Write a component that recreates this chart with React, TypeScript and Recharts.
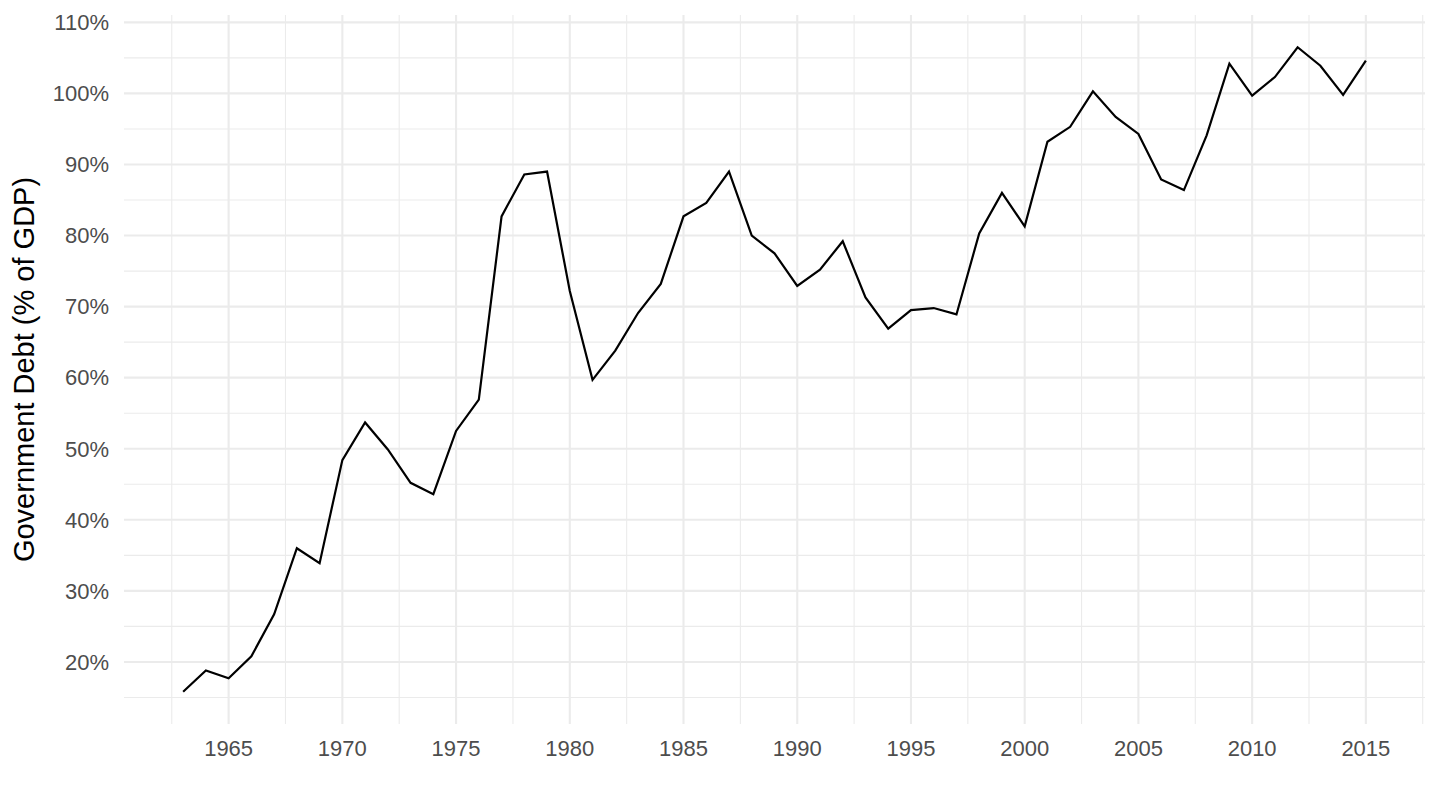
import React from 'react';
import { LineChart, Line, XAxis, YAxis, ReferenceLine, Label } from 'recharts';

const years = [
  1963, 1964, 1965, 1966, 1967, 1968, 1969, 1970, 1971, 1972, 1973, 1974, 1975, 1976,
  1977, 1978, 1979, 1980, 1981, 1982, 1983, 1984, 1985, 1986, 1987, 1988, 1989, 1990,
  1991, 1992, 1993, 1994, 1995, 1996, 1997, 1998, 1999, 2000, 2001, 2002, 2003, 2004,
  2005, 2006, 2007, 2008, 2009, 2010, 2011, 2012, 2013, 2014, 2015,
];

// government debt, % of GDP
const debt = [
  15.8, 18.8, 17.7, 20.8, 26.7, 36.0, 33.9, 48.4, 53.7, 49.9, 45.2, 43.6, 52.5, 56.9,
  82.7, 88.6, 89.0, 72.2, 59.7, 63.8, 69.1, 73.2, 82.7, 84.6, 89.0, 80.0, 77.5, 72.9,
  75.2, 79.2, 71.3, 66.9, 69.5, 69.8, 68.9, 80.3, 86.0, 81.3, 93.2, 95.3, 100.3, 96.7,
  94.3, 87.9, 86.4, 94.1, 104.2, 99.7, 102.3, 106.5, 103.9, 99.8, 104.6,
];

const xTicks = [1965, 1970, 1975, 1980, 1985, 1990, 1995, 2000, 2005, 2010, 2015];
const xMinor = [1962.5, 1967.5, 1972.5, 1977.5, 1982.5, 1987.5, 1992.5, 1997.5, 2002.5, 2007.5, 2012.5, 2017.5];
const yTicks = [20, 30, 40, 50, 60, 70, 80, 90, 100, 110];
const yMinor = [15, 25, 35, 45, 55, 65, 75, 85, 95, 105];

const data = years.map((year, i) => ({ year, debt: debt[i] }));

// ggplot style 5% expansion of the data range
const expand = (lo: number, hi: number) => {
  const pad = (hi - lo) * 0.05;
  return [lo - pad, hi + pad];
};
const xDomain = expand(Math.min(...years), Math.max(...years));
const yDomain = expand(Math.min(...debt), Math.max(...debt));

const FONT = '"Liberation Sans", Arial, Helvetica, sans-serif';
const GRID = '#ebebeb';

const YTitle = ({ viewBox }: any) => {
  const cy = viewBox.y + viewBox.height / 2;
  return (
    <text x={24} y={cy} transform={`rotate(-90 24 ${cy})`} textAnchor="middle" dominantBaseline="central"
      fontSize={29} fill="#000" fontFamily={FONT}>
      Government Debt (% of GDP)
    </text>
  );
};

export default function App() {
  return (
    <div style={{ position: 'absolute', left: 0, top: 0, background: '#fff' }}>
      <LineChart width={1440} height={810} data={data} margin={{ top: 15, right: 15, left: 0, bottom: 0 }}>
        {xMinor.map(v => (
          <ReferenceLine key={'xm' + v} x={v} stroke={GRID} strokeWidth={1.1} />
        ))}
        {yMinor.map(v => (
          <ReferenceLine key={'ym' + v} y={v} stroke={GRID} strokeWidth={1.1} />
        ))}
        {xTicks.map(v => (
          <ReferenceLine key={'x' + v} x={v} stroke={GRID} strokeWidth={2.1} />
        ))}
        {yTicks.map(v => (
          <ReferenceLine key={'y' + v} y={v} stroke={GRID} strokeWidth={2.1} />
        ))}
        <XAxis dataKey="year" type="number" domain={xDomain} ticks={xTicks} allowDataOverflow
          axisLine={false} tickLine={false} tickSize={0} tickMargin={16} height={86}
          tick={{ fontSize: 22, fill: '#4d4d4d', fontFamily: FONT }} />
        <YAxis type="number" domain={yDomain} ticks={yTicks} allowDataOverflow
          axisLine={false} tickLine={false} tickSize={0} tickMargin={15} width={124}
          tickFormatter={(v: number) => `${v}%`}
          tick={{ fontSize: 22, fill: '#4d4d4d', fontFamily: FONT }}>
          <Label content={<YTitle />} />
        </YAxis>
        <Line type="linear" dataKey="debt" stroke="#000" strokeWidth={2.2} dot={false} isAnimationActive={false} />
      </LineChart>
    </div>
  );
}
